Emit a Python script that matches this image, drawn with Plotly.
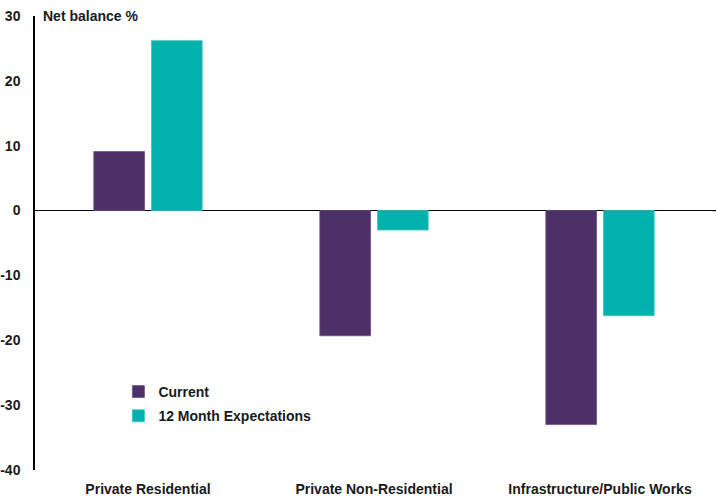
import plotly.graph_objects as go

categories = ["Private Residential", "Private Non-Residential", "Infrastructure/Public Works"]
current = [9.1, -19.3, -33.0]
expectations = [26.2, -3.0, -16.2]
series_names = ["Current", "12 Month Expectations"]
y_ticks = [30, 20, 10, 0, -10, -20, -30, -40]
y_tick_labels = ["30", "20", "10", "0", "-10", "-20", "-30", "-40"]

PURPLE = "#4D3068"
TEAL = "#00B1AE"
FONT = "Liberation Sans, Arial, sans-serif"

fig = go.Figure()
fig.add_trace(go.Bar(x=categories, y=current, name=series_names[0],
                     marker=dict(color=PURPLE, line=dict(color="#6A5282", width=0.8)),
                     legendgroup="a"))
fig.add_trace(go.Bar(x=categories, y=expectations, name=series_names[1],
                     marker=dict(color=TEAL, line=dict(color="#3CC4C0", width=0.8)),
                     legendgroup="b"))

fig.update_layout(
    width=716, height=497,
    margin=dict(l=35, r=3, t=16, b=27, autoexpand=False),
    paper_bgcolor="white", plot_bgcolor="white",
    font=dict(family=FONT, size=14, color="#1a1a1a", weight="bold"),
    barmode="group", bargap=0.49, bargroupgap=0.12,
    showlegend=True,
    legend=dict(x=0.123, y=0.207, xanchor="left", yanchor="top",
                bgcolor="rgba(0,0,0,0)", traceorder="grouped", tracegroupgap=3,
                font=dict(family=FONT, size=14, color="#1a1a1a", weight="bold")),
    xaxis=dict(showline=False, showgrid=False, ticks="", automargin=False,
               tickfont=dict(size=14, weight="bold"), ticklabelstandoff=9),
    yaxis=dict(range=[-40, 30], tickvals=y_ticks, ticktext=y_tick_labels, showgrid=False,
               automargin=False,
               showline=True, linecolor="black", linewidth=1.5,
               zeroline=True, zerolinecolor="black", zerolinewidth=1.2,
               ticks="", ticklabelstandoff=10,
               tickfont=dict(size=14, weight="bold")),
    annotations=[dict(text="Net balance %", x=0, y=1, xref="paper", yref="paper",
                      xanchor="left", yanchor="middle", xshift=6, showarrow=False,
                      font=dict(family=FONT, size=14, color="#1a1a1a", weight="bold"))],
    shapes=[dict(type="line", xref="paper", yref="y", x0=1, x1=1.01, y0=0, y1=0,
                 line=dict(color="black", width=1.2))],
)

fig.write_html("out.html", config={"displayModeBar": False},
               post_script="document.body.style.margin='0';")
